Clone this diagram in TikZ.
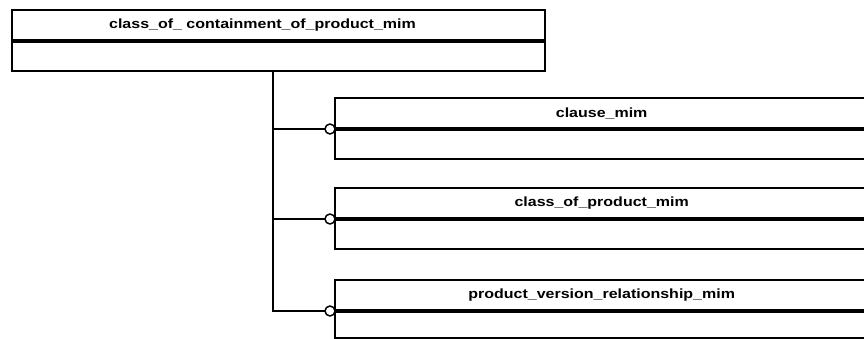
\documentclass[tikz,border=0pt]{standalone}
\usepackage{fontspec}
\setmainfont{Liberation Sans}
\newfontfamily\entfont[FakeStretch=1.2]{Liberation Sans}

\begin{document}
\begin{tikzpicture}[x=0.75pt,y=-0.75pt,
  entity head/.style={rectangle, draw, line width=1.1pt, outer sep=0pt, inner sep=0pt,
    anchor=north west, minimum height=23.25pt, font=\entfont\bfseries\fontsize{10}{11}\selectfont},
  entity body/.style={rectangle, draw, line width=1.1pt, outer sep=0pt, inner sep=0pt,
    anchor=north, minimum height=22.5pt},
  divider/.style={line width=2.4pt},
  heavy/.style={line width=2.2pt},
  link/.style={line width=0.9pt},
  optional/.style={circle, draw, fill=white, line width=1.1pt, inner sep=0pt, outer sep=0pt, minimum size=7.5pt}]
\clip (0,0) rectangle (864,339);

% supertype entity
\node[entity head, minimum width=399.75pt] (coc) at (12,10) {class\_of\_ containment\_of\_product\_mim\hspace*{24pt}};
\node[entity body, minimum width=399.75pt] (cocb) at (coc.south) {};
\draw[divider] (coc.south west) -- (coc.south east);

% related entities
\node[entity head, minimum width=400pt] (cm) at (335,98) {clause\_mim};
\node[entity body, minimum width=400pt] (cmb) at (cm.south) {};
\draw[divider] (cm.south west) -- (cm.south east);

\node[entity head, minimum width=400pt] (cpm) at (335,188) {class\_of\_product\_mim};
\node[entity body, minimum width=400pt] (cpmb) at (cpm.south) {};
\draw[divider] (cpm.south west) -- (cpm.south east);

\node[entity head, heavy, minimum width=400pt] (pvr) at (335,280) {product\_version\_relationship\_mim};
\node[entity body, heavy, minimum width=400pt, minimum height=20.25pt] (pvrb) at (pvr.south) {};
\draw[divider, line width=3pt] (pvr.south west) -- (pvr.south east);

% optional markers
\node[optional] (o1) at (330,129) {};
\node[optional] (o2) at (330,219) {};
\node[optional] (o3) at (330,311) {};

% tree
\coordinate (fork) at (273,311);
\draw[link] (cocb.south -| fork) -- (fork) -- (o3.west);
\draw[link] (o1.west) -- (o1.west -| fork);
\draw[link] (o2.west) -- (o2.west -| fork);
\end{tikzpicture}
\end{document}
